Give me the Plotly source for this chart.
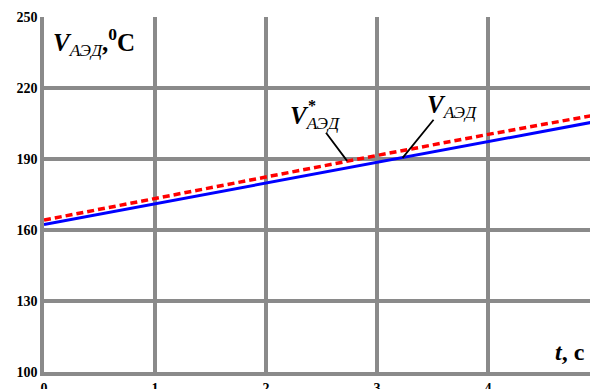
import plotly.graph_objects as go

# time, s
t_vals = [0, 1, 2, 3, 4, 5]
# V_AED (blue, solid)
v_aed = [162.3, 171.0, 179.7, 188.5, 197.3, 206.1]
# V*_AED (red, dashed)
v_aed_star = [164.2, 173.4, 182.6, 191.5, 200.4, 208.9]

x_ticks = [0, 1, 2, 3, 4, 5]
y_ticks = [100, 130, 160, 190, 220, 250]

grid_color = "#8a8a8a"
serif = "Liberation Serif"

fig = go.Figure()

fig.add_trace(
    go.Scatter(
        x=t_vals, y=v_aed, mode="lines",
        line=dict(color="#0000ff", width=3),
        name="V_AED",
    )
)
fig.add_trace(
    go.Scatter(
        x=t_vals, y=v_aed_star, mode="lines",
        line=dict(color="#ff0000", width=3.5, dash="7px,4px"),
        name="V*_AED",
    )
)

# leader lines
fig.add_annotation(x=2.73, y=189.2, ax=2.53, ay=201.7, axref="x", ayref="y",
                   text="", showarrow=True, arrowhead=0, arrowwidth=1.8, arrowcolor="black")
fig.add_annotation(x=3.23, y=190.5, ax=3.52, ay=207.2, axref="x", ayref="y",
                   text="", showarrow=True, arrowhead=0, arrowwidth=1.8, arrowcolor="black")

# curve labels
fig.add_annotation(x=2.20, y=200.3, xref="x", yref="y", xanchor="left", yanchor="bottom",
                   text="<b><i>V</i></b><sub><i>АЭД</i></sub>", showarrow=False,
                   font=dict(family=serif, size=25, color="black"))
fig.add_annotation(x=2.36, y=208, xref="x", yref="y", xanchor="left", yanchor="bottom",
                   text="<b>*</b>", showarrow=False,
                   font=dict(family=serif, size=16, color="black"))
fig.add_annotation(x=3.43, y=205, xref="x", yref="y", xanchor="left", yanchor="bottom",
                   text="<b><i>V</i></b><sub><i>АЭД</i></sub>", showarrow=False,
                   font=dict(family=serif, size=25, color="black"))

# axis titles placed inside plot
fig.add_annotation(x=0.06, y=248, xref="x", yref="y", xanchor="left", yanchor="top",
                   text="<b><i>V</i></b><sub><i>АЭД</i></sub><b>,<sup>0</sup>C</b>", showarrow=False,
                   font=dict(family=serif, size=25, color="black"))
fig.add_annotation(x=4.895, y=102, xref="x", yref="y", xanchor="right", yanchor="bottom",
                   text="<b><i>t</i>,&nbsp;c</b>", showarrow=False,
                   font=dict(family=serif, size=24, color="black"))

fig.update_xaxes(
    range=[0, 4.99], tickvals=x_ticks, automargin=False,
    showgrid=True, gridcolor=grid_color, gridwidth=3.5,
    showline=True, linecolor=grid_color, linewidth=3.5,
    zeroline=False, ticks="",
    tickfont=dict(family=serif, size=14, color="black", weight="bold"),
)
fig.update_yaxes(
    range=[100, 250], tickvals=y_ticks, automargin=False,
    showgrid=True, gridcolor=grid_color, gridwidth=3.5,
    showline=True, linecolor=grid_color, linewidth=3.5,
    zeroline=False, ticks="",
    tickfont=dict(family=serif, size=14, color="black", weight="bold"),
)

# page body adds an 8px offset, so the figure is sized to fit the window
fig.update_layout(
    width=590, height=381,
    margin=dict(l=36, r=0, t=9, b=17),
    plot_bgcolor="white", paper_bgcolor="white",
    showlegend=False,
)

fig.write_html("out.html")
